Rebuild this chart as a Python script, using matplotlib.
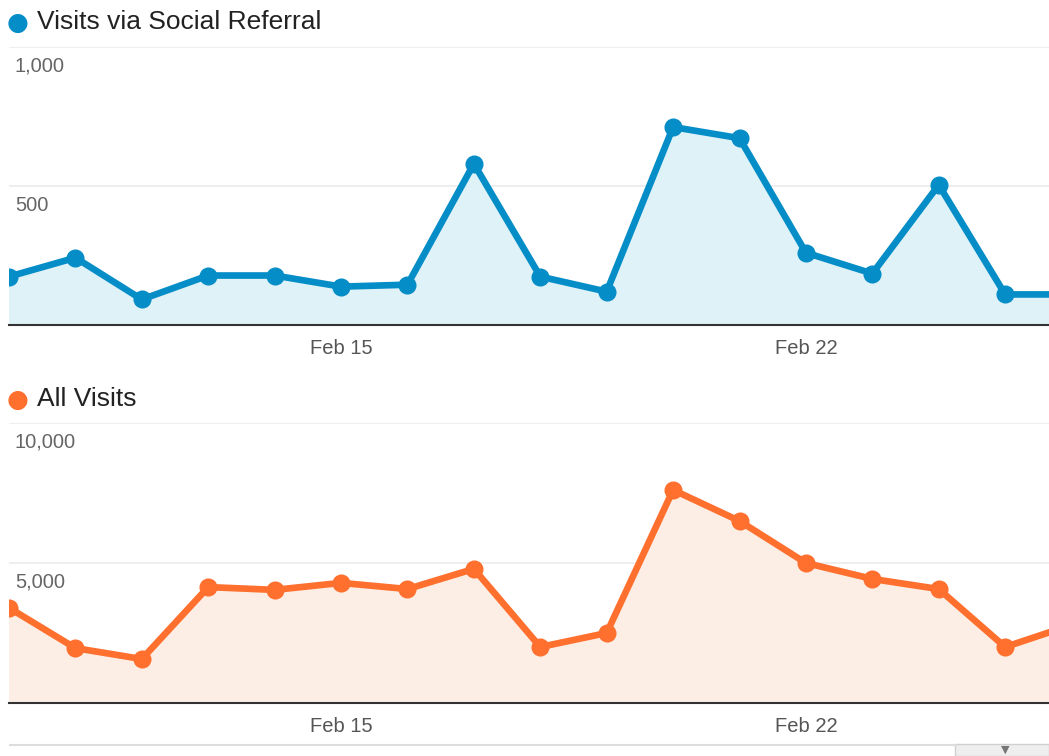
import matplotlib.pyplot as plt
from matplotlib.patches import Rectangle
from matplotlib.lines import Line2D

plt.rcParams['font.family'] = ['Liberation Sans', 'DejaVu Sans']

# days of February shown (last one sits just past the right edge)
days = [10, 11, 12, 13, 14, 15, 16, 17, 18, 19, 20, 21, 22, 23, 24, 25, 26]

social_visits = [174, 242, 92, 178, 178, 138, 145, 580, 174, 120,
                 712, 672, 260, 185, 504, 110, 110]

all_visits = [3400, 1960, 1570, 4140, 4040, 4290, 4070, 4790, 2000, 2500,
              7610, 6500, 5000, 4430, 4070, 2000, 2790]

x_ticks = [15, 22]
x_tick_labels = ["Feb 15", "Feb 22"]

social_y_ticks = [500, 1000]
social_y_labels = ["500", "1,000"]
all_y_ticks = [5000, 10000]
all_y_labels = ["5,000", "10,000"]

W, H = 1049, 756


def panel(rect, values, yticks, ylabels, ymax, color, fill, title, title_y):
    ax = fig.add_axes(rect)
    ax.fill_between(days, values, 0, color=fill, lw=0)
    ax.plot(days, values, color=color, lw=4.8, marker="o", markersize=12,
            solid_joinstyle="round", zorder=3)
    ax.set_xlim(10, 25.66)
    ax.set_ylim(0, ymax)

    for t, lab in zip(yticks, ylabels):
        ax.axhline(t, color="#ebebeb", lw=1.2, zorder=0)
        ax.annotate(lab, xy=(0, t), xycoords=("axes fraction", "data"),
                    xytext=(6, -10), textcoords="offset pixels",
                    ha="left", va="top", fontsize=14.5, color="#666666")

    ax.set_yticks([])
    ax.set_xticks(x_ticks)
    ax.set_xticklabels(x_tick_labels, fontsize=14.5, color="#555555")
    ax.tick_params(axis="x", length=0, pad=10)

    for side in ["top", "left", "right"]:
        ax.spines[side].set_visible(False)
    ax.spines["bottom"].set_color("#333333")
    ax.spines["bottom"].set_linewidth(1.5)
    ax.patch.set_alpha(0)

    fig.text(18 / W, 1 - (title_y + 1) / H, "\u25CF", color=color, fontsize=18,
             ha="center", va="center", family="DejaVu Sans")
    fig.text(37 / W, 1 - title_y / H, title, color="#222222", fontsize=19,
             ha="left", va="center")
    return ax


fig = plt.figure(figsize=(W / 100, H / 100), dpi=100)

panel([9 / W, 1 - 325 / H, 1 - 9 / W, 278 / H], social_visits,
      social_y_ticks, social_y_labels, 1000,
      "#058DC7", "#DFF2F8", "Visits via Social Referral", 22)

panel([9 / W, 1 - 703 / H, 1 - 9 / W, 280 / H], all_visits,
      all_y_ticks, all_y_labels, 10000,
      "#FF6F2E", "#FDEEE5", "All Visits", 399)

# bottom strip with a dropdown box, cut off by the frame
fig.add_artist(Line2D([10 / W, 955 / W], [1 - 745 / H, 1 - 745 / H],
                      color="#dddddd", lw=1.5))
fig.add_artist(Rectangle((955 / W, 0), 94 / W, 12 / H, color="#eeeeee",
                         ec="#d0d0d0", lw=1))
fig.text(1005 / W, 1 - 750 / H, "\u25BC", color="#777777", fontsize=8,
         ha="center", va="center", family="DejaVu Sans")

fig.savefig("out.png", dpi=100)
